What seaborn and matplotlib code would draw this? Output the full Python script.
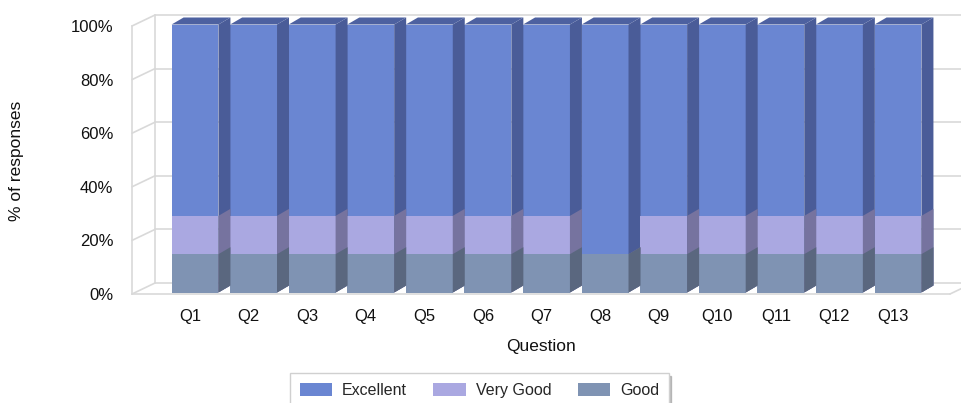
import matplotlib
matplotlib.use("Agg")
import matplotlib.pyplot as plt
import matplotlib.transforms as mtransforms
import seaborn as sns
import pandas as pd
from matplotlib.patches import Polygon, Patch

# ---- data ----
questions = [f"Q{i}" for i in range(1, 14)]
good = [14.3] * 13
very_good = [14.3] * 7 + [0.0] + [14.3] * 5
excellent = [71.4] * 7 + [85.7] + [71.4] * 5
series_names = ["Excellent", "Very Good", "Good"]
yticks = [0, 20, 40, 60, 80, 100]
ytick_labels = ["0%", "20%", "40%", "60%", "80%", "100%"]
x_title = "Question"
y_title = "% of responses"

# ---- style ----
sns.set_style("white")
plt.rcParams['font.family'] = ['Liberation Sans', 'DejaVu Sans']

front_col = {"Excellent": "#6a86d2", "Very Good": "#aaa8e1", "Good": "#7f93b3"}
side_col = {"Excellent": "#4a5c98", "Very Good": "#76739f", "Good": "#5a677f"}
top_col = "#4d61a0"
grid_col = "#d9d9d9"
text_col = "#111111"

W, H = 961, 403
fig = plt.figure(figsize=(W / 100, H / 100), dpi=100)
ax_l, ax_r, ax_b, ax_t = 132, 961, 294, 26
ax = fig.add_axes([ax_l / W, 1 - ax_b / H, (ax_r - ax_l) / W, (ax_b - ax_t) / H])

ppu_x = (893 - 190) / 12.0
ppu_y = (ax_b - ax_t) / 100.0
xlo = -(190 - ax_l) / ppu_x
xhi = 12 + (ax_r - 893) / ppu_x

df = pd.DataFrame({"Question": questions, "Good": good,
                   "Very Good": very_good, "Excellent": excellent})
df["cum_good"] = df["Good"]
df["cum_vg"] = df["Good"] + df["Very Good"]
df["cum_ex"] = df["cum_vg"] + df["Excellent"]

ddx, ddy = 12 / ppu_x, 7 / ppu_y     # bar depth
wdx, wdy = 23 / ppu_x, 11 / ppu_y    # wall depth
bar_tr = ax.transData + mtransforms.ScaledTranslation(5 / 100, 1.5 / 100, fig.dpi_scale_trans)

# walls / grid
for v in yticks:
    ax.plot([xlo + wdx, xhi + 1], [v + wdy] * 2, color=grid_col, lw=1.2, zorder=0, clip_on=False)
    ax.plot([xlo, xlo + wdx], [v, v + wdy], color=grid_col, lw=1.2, zorder=0, clip_on=False)
ax.plot([xlo + wdx] * 2, [wdy, 100 + wdy], color=grid_col, lw=1.2, zorder=0, clip_on=False)
x_end = (950 - 190) / ppu_x
ax.plot([xlo, x_end], [0, 0], color=grid_col, lw=1.2, zorder=0, clip_on=False)
ax.plot([x_end, x_end + wdx], [0, wdy], color=grid_col, lw=1.2, zorder=0, clip_on=False)

layers = [("Excellent", "cum_ex"), ("Very Good", "cum_vg"), ("Good", "cum_good")]
for name, col in layers:
    n0 = len(ax.patches)
    sns.barplot(data=df, x="Question", y=col, color=front_col[name], saturation=1,
                width=0.8, ax=ax, edgecolor="none", linewidth=0, zorder=2)
    for p in list(ax.patches[n0:]):
        p.set_transform(bar_tr)
        p.set_clip_on(False)
        x, w, h = p.get_x(), p.get_width(), p.get_height()
        if h <= 0:
            continue
        side = Polygon([(x + w, 0), (x + w, h), (x + w + ddx, h + ddy), (x + w + ddx, ddy)],
                       closed=True, facecolor=side_col[name], edgecolor="none", zorder=2,
                       clip_on=False, transform=bar_tr)
        ax.add_patch(side)
        if name == "Excellent":
            top = Polygon([(x, h), (x + w, h), (x + w + ddx, h + ddy), (x + ddx, h + ddy)],
                          closed=True, facecolor=top_col, edgecolor="none", zorder=2,
                          clip_on=False, transform=bar_tr)
            ax.add_patch(top)

ax.set_xlim(xlo, xhi)
ax.set_ylim(0, 100)
ax.set_xlabel("")
ax.set_ylabel("")
ax.set_yticks(yticks)
ax.set_yticklabels(ytick_labels)
for s in ["top", "right", "bottom"]:
    ax.spines[s].set_visible(False)
ax.spines["left"].set_color(grid_col)
ax.spines["left"].set_linewidth(1.2)
ax.tick_params(axis="y", length=10, width=1.2, color=grid_col, labelsize=12, pad=3.5,
               labelcolor=text_col)
ax.tick_params(axis="x", length=4.5, width=1.2, color=grid_col, labelsize=12, pad=6,
               labelcolor=text_col)

fig.text(17 / W, 1 - 161 / H, y_title, rotation=90, ha="center", va="center",
         fontsize=12.5, color=text_col)
fig.text(541 / W, 1 - 347 / H, x_title, ha="center", va="center",
         fontsize=12.5, color=text_col)

handles = [Patch(facecolor=front_col[n], edgecolor="none") for n in series_names]
leg = fig.legend(handles, series_names, loc="upper left",
                 bbox_to_anchor=(290 / W, 1 - 373 / H), ncol=3, frameon=True,
                 fancybox=False, edgecolor="#d0d0d0", fontsize=11.5,
                 handlelength=2.05, handleheight=0.95, handletextpad=0.6,
                 columnspacing=1.65, borderpad=0.6, borderaxespad=0,
                 shadow={"ox": 2, "oy": -2, "color": "#999999", "alpha": 0.6})
leg.get_frame().set_linewidth(1.0)

fig.savefig("out.png", dpi=100)
